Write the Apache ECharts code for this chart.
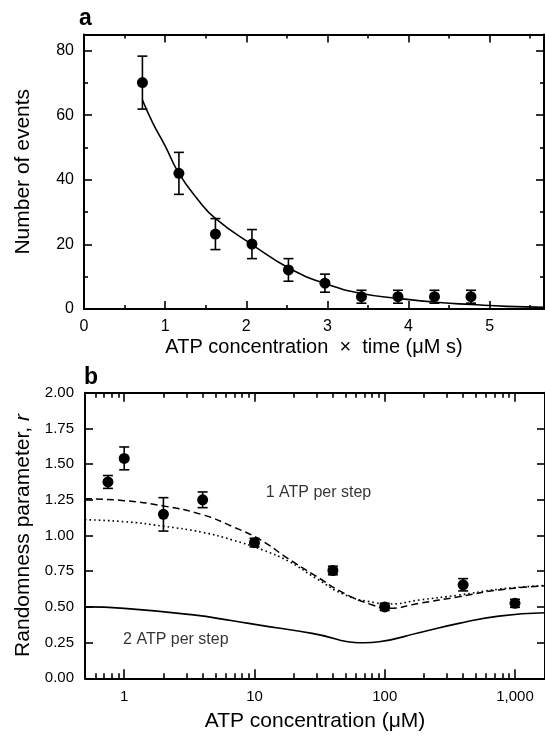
<!DOCTYPE html>
<html><head><meta charset="utf-8">
<script src="https://cdn.jsdelivr.net/npm/echarts@6/dist/echarts.min.js"></script>
<style>html,body{margin:0;padding:0;background:#fff}#c{width:545px;height:740px}</style>
</head><body><div id="c"></div>
<script>
const FONT = '"Liberation Sans", Arial, Helvetica, sans-serif';

// ---------- Panel a data ----------
const aPointX   = [0.72, 1.17, 1.62, 2.07, 2.52, 2.97, 3.42, 3.87, 4.32, 4.77];
const aPointY   = [70.1, 42.0, 23.2, 20.1, 12.1, 8.0, 3.8, 3.8, 3.8, 3.8];
const aPointErr = [8.2, 6.5, 4.8, 4.5, 3.5, 2.8, 2.0, 2.0, 2.0, 2.0];
const aFitX = [0.72, 0.85, 1.0, 1.17, 1.4, 1.63, 2.08, 2.53, 2.98, 3.42, 3.87, 4.38, 4.77, 5.21, 5.67];
const aFitY = [64.7, 57.5, 50.5, 42.0, 34.0, 27.8, 19.8, 12.6, 7.8, 4.8, 3.3, 2.0, 1.4, 0.8, 0.5];
const aXTicks = [0, 1, 2, 3, 4, 5];
const aXMinorTicks = [0.5, 1.5, 2.5, 3.5, 4.5, 5.5];
const aYTicks = [0, 20, 40, 60, 80];
const aYMinorTicks = [10, 30, 50, 70];

// ---------- Panel b data ----------
const bPointX   = [0.75, 1, 2, 4, 10, 40, 100, 400, 1000];
const bPointY   = [1.375, 1.54, 1.148, 1.25, 0.95, 0.755, 0.50, 0.655, 0.525];
const bPointErr = [0.045, 0.08, 0.117, 0.055, 0.03, 0.03, 0.025, 0.043, 0.028];
const bDashX = [0.5, 1, 2, 4, 6.8, 11.2, 18, 28.8, 48.9, 80.5, 108, 183, 371, 752, 1700];
const bDashY = [1.258, 1.244, 1.207, 1.145, 1.062, 0.968, 0.840, 0.723, 0.595, 0.513, 0.490, 0.525, 0.571, 0.619, 0.648];
const bDotX = [0.5, 1, 2, 4, 6.8, 11.6, 18.5, 29.7, 50, 85, 108, 183, 371, 752, 1700];
const bDotY = [1.11, 1.097, 1.065, 1.022, 0.968, 0.898, 0.817, 0.700, 0.583, 0.529, 0.520, 0.548, 0.583, 0.624, 0.650];
const bSolidX = [0.5, 1, 3.4, 6.8, 10.9, 27.7, 69.5, 90.6, 183, 371, 752, 1700];
const bSolidY = [0.50, 0.49, 0.444, 0.403, 0.373, 0.315, 0.249, 0.256, 0.319, 0.385, 0.436, 0.459];
const bXTicks = [1, 10, 100, 1000];
const bXMinorTicks = [0.6, 0.7, 0.8, 0.9, 2, 3, 4, 5, 6, 7, 8, 9, 20, 30, 40, 50, 60, 70, 80, 90, 200, 300, 400, 500, 600, 700, 800, 900];
const bYTicks = [0, 0.25, 0.5, 0.75, 1.0, 1.25, 1.5, 1.75, 2.0];
const bTexts = ['1 ATP per step', '2 ATP per step'];
const bTextX = [12.2, 0.98];
const bTextY = [1.30, 0.273];

const zip = (xs, ys) => xs.map((x, i) => [x, ys[i]]);
const errData = (xs, ys, es) => xs.map((x, i) => [x, ys[i] - es[i], ys[i] + es[i]]);

const BLACK = '#000';
function errRender(params, api) {
  const x = api.value(0), lo = api.value(1), hi = api.value(2);
  const p1 = api.coord([x, hi]), p2 = api.coord([x, lo]);
  const w = 5;
  const st = { stroke: BLACK, lineWidth: 1.6 };
  return { type: 'group', children: [
    { type: 'line', shape: { x1: p1[0], y1: p1[1], x2: p2[0], y2: p2[1] }, style: st },
    { type: 'line', shape: { x1: p1[0] - w, y1: p1[1], x2: p1[0] + w, y2: p1[1] }, style: st },
    { type: 'line', shape: { x1: p2[0] - w, y1: p2[1], x2: p2[0] + w, y2: p2[1] }, style: st }
  ]};
}

function axis(opts) {
  const o = {
    gridIndex: opts.grid, type: opts.type || 'value', position: opts.position,
    min: opts.min, max: opts.max, logBase: 10,
    splitLine: { show: false },
    axisLine: { show: !!opts.line, onZero: false, lineStyle: { color: BLACK, width: 2 } },
    axisTick: { show: true, inside: true, length: opts.len, customValues: opts.ticks, lineStyle: { color: BLACK, width: 1.6 } },
    axisLabel: { show: !!opts.labels, customValues: opts.labels ? opts.ticks : undefined, color: BLACK,
                 fontFamily: FONT, fontSize: opts.fs || 16, margin: opts.margin || 10, formatter: opts.fmt },
    axisPointer: { show: false }
  };
  if (opts.name) {
    o.name = opts.name; o.nameLocation = 'middle'; o.nameGap = opts.nameGap;
    o.nameTextStyle = Object.assign({ color: BLACK, fontFamily: FONT, fontSize: opts.nameSize }, opts.nameStyle || {});
  }
  return o;
}

const option = {
  animation: false,
  backgroundColor: '#fff',
  grid: [
    { left: 84, right: 1, top: 34.5, bottom: 431 },
    { left: 85, right: -1.3, top: 392.7, bottom: 61.7 }
  ],
  xAxis: [
    axis({ grid: 0, position: 'bottom', min: 0, max: 5.67, line: true, len: 8, ticks: aXTicks, labels: true, margin: 10,
           name: 'ATP concentration  \u00d7  time (\u03bcM s)', nameGap: 28, nameSize: 20 }),
    axis({ grid: 0, position: 'bottom', min: 0, max: 5.67, len: 4, ticks: aXMinorTicks }),
    axis({ grid: 0, position: 'top', min: 0, max: 5.67, line: true, len: 8, ticks: aXTicks }),
    axis({ grid: 0, position: 'top', min: 0, max: 5.67, len: 4, ticks: aXMinorTicks }),
    axis({ grid: 1, type: 'log', position: 'bottom', min: 0.5, max: 1700, line: true, len: 9, ticks: bXTicks, labels: true,
           fs: 15, margin: 11, fmt: v => Number(v).toLocaleString('en-US'),
           name: 'ATP concentration (\u03bcM)', nameGap: 32, nameSize: 21 }),
    axis({ grid: 1, type: 'log', position: 'bottom', min: 0.5, max: 1700, len: 5, ticks: bXMinorTicks }),
    axis({ grid: 1, type: 'log', position: 'top', min: 0.5, max: 1700, line: true, len: 9, ticks: bXTicks }),
    axis({ grid: 1, type: 'log', position: 'top', min: 0.5, max: 1700, len: 5, ticks: bXMinorTicks })
  ],
  yAxis: [
    axis({ grid: 0, position: 'left', min: 0, max: 85, line: true, len: 8, ticks: aYTicks, labels: true, margin: 10,
           name: 'Number of events', nameGap: 50, nameSize: 21 }),
    axis({ grid: 0, position: 'left', min: 0, max: 85, len: 4, ticks: aYMinorTicks }),
    axis({ grid: 0, position: 'right', min: 0, max: 85, line: true, len: 8, ticks: aYTicks }),
    axis({ grid: 0, position: 'right', min: 0, max: 85, len: 4, ticks: aYMinorTicks }),
    axis({ grid: 1, position: 'left', min: 0, max: 2, line: true, len: 8, ticks: bYTicks, labels: true, fs: 15, margin: 11,
           fmt: v => Number(v).toFixed(2),
           name: 'Randomness parameter, {i|r}', nameGap: 50, nameSize: 21,
           nameStyle: { rich: { i: { fontStyle: 'italic', fontFamily: FONT, fontSize: 21, color: BLACK } } } }),
    axis({ grid: 1, position: 'right', min: 0, max: 2, line: true, len: 8, ticks: bYTicks })
  ],
  graphic: [
    { type: 'text', left: 79, top: 7, style: { text: 'a', font: 'bold 23px ' + FONT, fill: BLACK } },
    { type: 'text', left: 84, top: 366, style: { text: 'b', font: 'bold 23px ' + FONT, fill: BLACK } }
  ],
  series: [
    { type: 'line', xAxisIndex: 0, yAxisIndex: 0, data: zip(aFitX, aFitY), smooth: true, showSymbol: false,
      lineStyle: { color: BLACK, width: 1.6 }, silent: true },
    { type: 'custom', xAxisIndex: 0, yAxisIndex: 0, renderItem: errRender, data: errData(aPointX, aPointY, aPointErr),
      encode: { x: 0, y: [1, 2] }, silent: true },
    { type: 'scatter', xAxisIndex: 0, yAxisIndex: 0, data: zip(aPointX, aPointY), symbolSize: 11,
      itemStyle: { color: BLACK, opacity: 1 }, silent: true },

    { type: 'line', xAxisIndex: 4, yAxisIndex: 4, data: zip(bDashX, bDashY), smooth: true, showSymbol: false,
      lineStyle: { color: BLACK, width: 1.5, type: [7, 4] }, silent: true },
    { type: 'line', xAxisIndex: 4, yAxisIndex: 4, data: zip(bDotX, bDotY), smooth: true, showSymbol: false,
      lineStyle: { color: BLACK, width: 1.6, type: [1.6, 3] }, silent: true },
    { type: 'line', xAxisIndex: 4, yAxisIndex: 4, data: zip(bSolidX, bSolidY), smooth: true, showSymbol: false,
      lineStyle: { color: BLACK, width: 1.7 }, silent: true },
    { type: 'custom', xAxisIndex: 4, yAxisIndex: 4, renderItem: errRender, data: errData(bPointX, bPointY, bPointErr),
      encode: { x: 0, y: [1, 2] }, silent: true },
    { type: 'scatter', xAxisIndex: 4, yAxisIndex: 4, data: zip(bPointX, bPointY), symbolSize: 11,
      itemStyle: { color: BLACK, opacity: 1 }, silent: true },
    { type: 'scatter', xAxisIndex: 4, yAxisIndex: 4, symbolSize: 0, silent: true,
      data: bTexts.map((t, i) => ({ value: [bTextX[i], bTextY[i]], name: t })),
      label: { show: true, position: 'right', distance: 0, formatter: p => p.name, color: BLACK,
               fontFamily: FONT, fontSize: 16 } }
  ]
};

const chart = echarts.init(document.getElementById('c'), null, { renderer: 'canvas' });
chart.setOption(option);
</script>
</body></html>
